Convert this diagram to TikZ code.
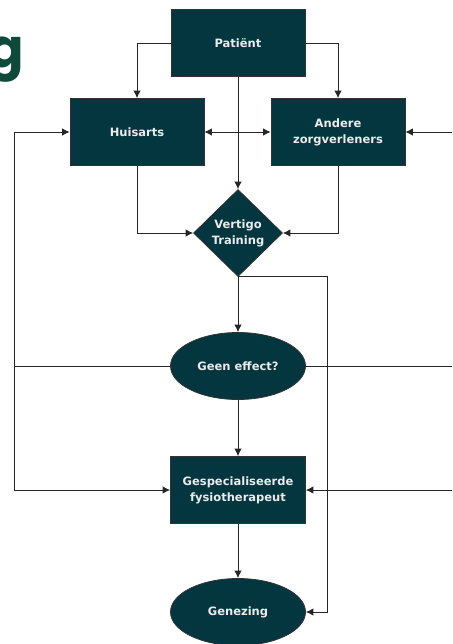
\documentclass[tikz,border=0pt]{standalone}
\usepackage{fontspec}
\setmainfont{DejaVu Sans}
\newfontfamily\titlefont{Poppins}
\usetikzlibrary{shapes.geometric, arrows.meta}
\definecolor{boxfill}{HTML}{04363F}
\definecolor{titlegreen}{HTML}{0D4A3A}
\tikzset{
 flowbox/.style={draw=black!80, line width=0.8pt, fill=boxfill, text=white!92!black, rectangle,
  minimum width=134pt, minimum height=67pt, align=center, inner sep=0pt,
  font=\bfseries\fontsize{11.5}{16}\selectfont},
 flowdiamond/.style={flowbox, diamond, minimum width=89pt, minimum height=87pt},
 flowellipse/.style={flowbox, ellipse, minimum width=135pt, minimum height=67pt},
 link/.style={draw=black!85, line width=0.9pt},
 >={Latex[length=7.5pt, width=7.5pt]}
}

\begin{document}
\begin{tikzpicture}[x=1pt, y=-1pt]
 \useasboundingbox (0,0) rectangle (452,644);
 \clip (0,0) rectangle (452,644);
 % cut-off title letter
 \node[text=titlegreen, font=\titlefont\bfseries\fontsize{54}{60}\selectfont, anchor=base east, inner sep=0pt] (ttl) at (24,68) {g};
 % nodes
 \node[flowbox] (pat) at (238,43) {Patiënt};
 \node[flowbox] (huis) at (137,132) {Huisarts};
 \node[flowbox] (ander) at (338,132) {Andere\\zorgverleners};
 \node[flowdiamond] (vt) at (238,233) {Vertigo\\Training};
 \node[flowellipse] (geen) at (238,366) {Geen effect?};
 \node[flowbox, minimum width=135pt] (gesp) at (238,490) {Gespecialiseerde\\fysiotherapeut};
 \node[flowellipse] (gen) at (238,612) {Genezing};
 \coordinate (lbus) at (14,366);
 \coordinate (rbus) at (470,366);
 % connectors
 \draw[link, ->] (pat.west) -| (huis.north);
 \draw[link, ->] (pat.east) -| (ander.north);
 \draw[link, ->] (pat.south) -- (vt.north);
 \draw[link, <->] (huis.east) -- (ander.west);
 \draw[link, ->] (huis.south) |- (vt.west);
 \draw[link, ->] (ander.south) |- (vt.east);
 \draw[link, ->] (vt.south) -- (geen.north);
 \draw[link, ->] (vt.south) --++ (89,0) |- (gen.east);
 \draw[link, ->] (geen.south) -- (gesp.north);
 \draw[link, ->] (gesp.south) -- (gen.north);
 \draw[link] (geen.west) -- (lbus);
 \draw[link, ->] (lbus) |- (huis.west);
 \draw[link, ->] (lbus) |- (gesp.west);
 \draw[link] (geen.east) -- (rbus);
 \draw[link, ->] (rbus) |- (ander.east);
 \draw[link, ->] (rbus) |- (gesp.east);
\end{tikzpicture}
\end{document}
